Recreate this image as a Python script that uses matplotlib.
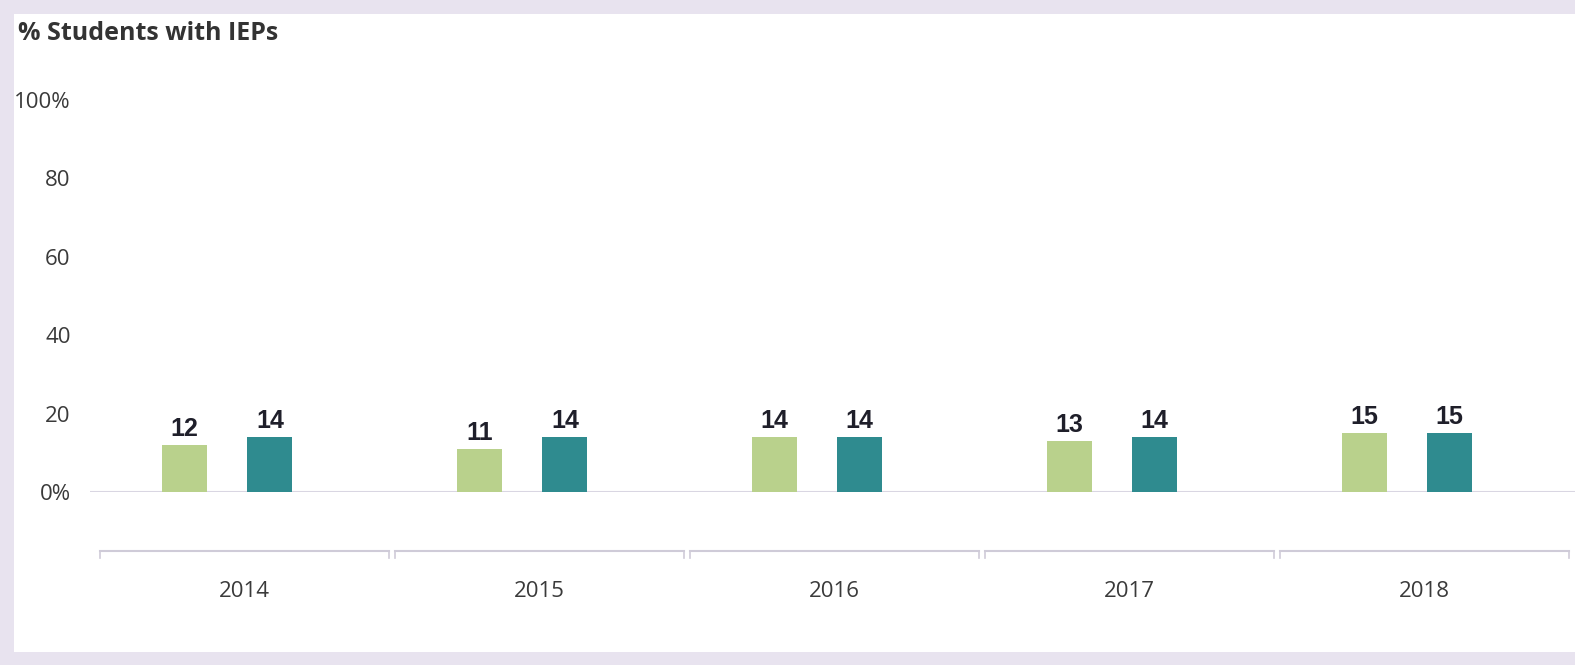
import matplotlib
matplotlib.use("Agg")
import matplotlib.pyplot as plt
from matplotlib.patches import Rectangle
import numpy as np

years = ["2014", "2015", "2016", "2017", "2018"]
school = [12, 11, 14, 13, 15]
district = [14, 14, 14, 14, 15]
yticks = [0, 20, 40, 60, 80, 100]
ytick_labels = ["0%", "20", "40", "60", "80", "100%"]
title = "% Students with IEPs"

W, H = 1575, 665
fig = plt.figure(figsize=(W / 100, H / 100), dpi=100, facecolor="#e8e3ef")
fig.patches.append(Rectangle((14 / W, 1 - 652 / H), 1 - 14 / W, (652 - 14) / H,
                             transform=fig.transFigure, facecolor="white",
                             edgecolor="none", zorder=-10))

ax = fig.add_axes([90 / W, 1 - 492 / H, 1 - 90 / W, 392 / H])
ax.set_zorder(1)
ax.set_facecolor("none")
x = np.arange(len(years))
bw = 0.152
off1, off2 = -0.205, 0.085
c1, c2 = "#b9d18c", "#2f8b8f"
b1 = ax.bar(x + off1, school, width=bw, color=c1, zorder=3)
b2 = ax.bar(x + off2, district, width=bw, color=c2, zorder=3)
for bars, vals in ((b1, school), (b2, district)):
    for r, v in zip(bars, vals):
        ax.text(r.get_x() + r.get_width() / 2, v + 1.0, str(v), ha="center", va="bottom",
                fontsize=18, fontweight="bold", color="#1f1f2a",
                family=["Liberation Sans Narrow", "Liberation Sans", "DejaVu Sans"])

ax.set_ylim(0, 100)
ax.set_xlim(-0.525, 4.51)
ax.axhline(0, color="#d9d6e2", lw=1.5, zorder=2)
for s in ax.spines.values():
    s.set_visible(False)
ax.set_yticks(yticks)
ax.set_yticklabels(ytick_labels, fontsize=16, color="#3a3a3a", family="Open Sans")
ax.tick_params(axis="y", length=0, pad=14)
ax.set_xticks(x)
ax.set_xticklabels(years, fontsize=16, color="#3a3a3a", family="Open Sans")
ax.tick_params(axis="x", length=0, pad=64)

# bracket-style category separators below the axis
yb = -15
for i in x:
    l, r = i - 0.49, i + 0.49
    ax.plot([l, r], [yb, yb], color="#cfcbd8", lw=1.5, clip_on=False, zorder=1)
    ax.plot([l, l], [yb, yb - 1.8], color="#cfcbd8", lw=1.2, clip_on=False)
    ax.plot([r, r], [yb, yb - 1.8], color="#cfcbd8", lw=1.2, clip_on=False)

fig.text(18 / W, 1 - 34 / H, title, fontsize=18, fontweight="bold", color="#333333",
         family="Open Sans", va="center", ha="left")

fig.savefig("out.png", dpi=100, facecolor=fig.get_facecolor())
